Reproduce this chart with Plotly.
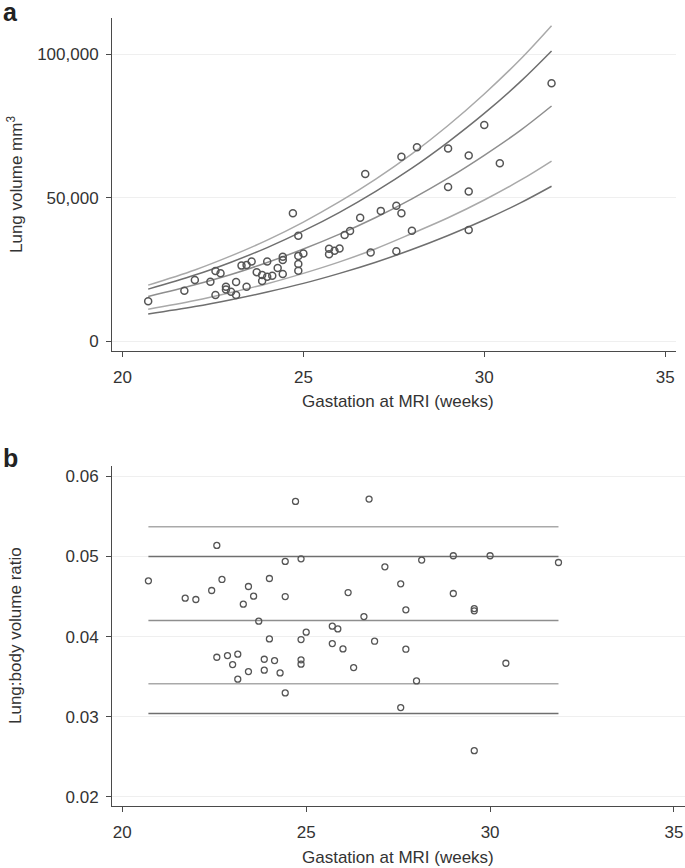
import plotly.graph_objects as go

# ---------------- Panel a data ----------------
ga_a = [20.71, 21.71, 22.0, 22.43, 22.57, 22.71, 22.57, 22.86, 22.86, 23.0,
        23.14, 23.14, 23.29, 23.43, 23.57, 23.43, 23.71, 23.86, 23.86, 24.0,
        24.0, 24.14, 24.29, 24.43, 24.43, 24.43, 24.71, 24.86, 24.86, 24.86,
        24.86, 25.0, 25.71, 25.71, 25.86, 26.0, 26.14, 26.29, 26.57, 26.71,
        26.86, 27.14, 27.57, 27.71, 27.57, 27.71, 28.0, 28.14, 29.0, 29.0,
        29.57, 29.57, 29.57, 30.0, 30.43, 31.86]
volume_a = [13850, 17550, 21300, 20700, 24400, 23600, 16050, 18900, 18000, 17200,
            16050, 20600, 26300, 26500, 27700, 18900, 24000, 23000, 20900, 27700,
            22400, 22800, 25500, 29400, 28300, 23400, 44600, 36700, 29700, 26900,
            24500, 30500, 32200, 30300, 31500, 32300, 37000, 38400, 43000, 58300,
            30900, 45400, 47200, 44600, 31300, 64300, 38500, 67600, 67200, 53700,
            64700, 52200, 38700, 75400, 62000, 89900]

# reference curves
curve_ga = [20.71, 22, 23, 24, 25, 26, 27, 28, 29, 30, 31, 31.86]
curve_1 = [19500, 24800, 29700, 35200, 41500, 48600, 56500, 65300, 75200, 86200, 98300, 110000]
curve_2 = [18100, 23000, 27500, 32600, 38400, 44900, 52200, 60300, 69400, 79400, 90500, 101200]
curve_3 = [15500, 19600, 23200, 27400, 32100, 37300, 43100, 49600, 56800, 64800, 73500, 82000]
curve_4 = [11050, 14100, 16900, 20000, 23600, 27600, 32200, 37500, 43000, 49200, 56100, 62800]
curve_5 = [9400, 12000, 14400, 17100, 20100, 23600, 27500, 31900, 36800, 42200, 48200, 54000]

# ---------------- Panel b data ----------------
ga_b = [20.71, 21.71, 22.0, 22.43, 22.57, 22.71, 22.57, 22.86, 23.0, 23.14,
        23.14, 23.29, 23.43, 23.57, 23.43, 23.71, 23.86, 23.86, 24.0, 24.0,
        24.14, 24.29, 24.43, 24.43, 24.43, 24.71, 24.86, 24.86, 24.86, 24.86,
        25.0, 25.71, 25.86, 25.71, 26.0, 26.14, 26.71, 26.29, 26.57, 26.86,
        27.14, 27.57, 27.71, 27.71, 27.57, 28.0, 28.14, 29.0, 29.0, 29.57,
        29.57, 29.57, 30.0, 30.43, 31.86]
ratio_b = [0.04696, 0.0448, 0.04463, 0.04575, 0.05138, 0.04713, 0.03742, 0.03763, 0.0365, 0.0378,
           0.03468, 0.04405, 0.04625, 0.04505, 0.03563, 0.04192, 0.03717, 0.0358, 0.04725, 0.03971,
           0.037, 0.03546, 0.04938, 0.045, 0.03296, 0.05688, 0.04971, 0.03963, 0.03709, 0.03655,
           0.04055, 0.0413, 0.04096, 0.03913, 0.03846, 0.0455, 0.05717, 0.03613, 0.0425, 0.03942,
           0.04871, 0.04659, 0.04334, 0.03842, 0.03113, 0.03446, 0.04955, 0.05009, 0.04538, 0.0435,
           0.04321, 0.02575, 0.05009, 0.03667, 0.04925]
ref_ga_b = [20.71, 31.86]
ratio_levels = [0.0537, 0.0500, 0.0420, 0.0341, 0.0304]

x_ticks = [20, 25, 30, 35]
y_ticks_a = [0, 50000, 100000]
y_ticks_b = [0.02, 0.03, 0.04, 0.05, 0.06]

# ---------------- styling ----------------
W, H = 685, 868
FONT = "Liberation Sans, Arial, Helvetica, sans-serif"
line_colors = ["#a9a9a9", "#6f6f6f", "#8e8e8e", "#a9a9a9", "#6f6f6f"]
marker_col = "#555555"
axis_col = "#4a4a4a"

fig = go.Figure()

for c, col in zip([curve_1, curve_2, curve_3, curve_4, curve_5], line_colors):
    fig.add_trace(go.Scatter(x=curve_ga, y=c, mode="lines", line=dict(color=col, width=1.5, shape="spline"),
                             xaxis="x", yaxis="y", hoverinfo="skip", showlegend=False))
fig.add_trace(go.Scatter(x=ga_a, y=volume_a, mode="markers",
                         marker=dict(symbol="circle-open", size=7, color=marker_col, line=dict(width=1.5, color=marker_col)),
                         xaxis="x", yaxis="y", showlegend=False))

for lvl, col in zip(ratio_levels, line_colors):
    fig.add_trace(go.Scatter(x=ref_ga_b, y=[lvl, lvl], mode="lines", line=dict(color=col, width=1.5),
                             xaxis="x2", yaxis="y2", hoverinfo="skip", showlegend=False))
fig.add_trace(go.Scatter(x=ga_b, y=ratio_b, mode="markers",
                         marker=dict(symbol="circle-open", size=6, color=marker_col, line=dict(width=1.3, color=marker_col)),
                         xaxis="x2", yaxis="y2", showlegend=False))

axis_common = dict(showline=True, linecolor=axis_col, linewidth=1, ticks="outside", ticklen=5,
                   tickcolor=axis_col, tickwidth=1, zeroline=False,
                   tickfont=dict(family=FONT, size=17, color="#333333"))

def px_x(p):
    return p / W

def px_y(p):
    return 1 - p / H

fig.update_layout(
    width=W, height=H,
    margin=dict(l=0, r=0, t=0, b=0),
    paper_bgcolor="white", plot_bgcolor="white",
    showlegend=False,
    xaxis=dict(domain=[px_x(112), px_x(676)], range=[19.71, 35.3], tickvals=x_ticks,
               showgrid=False, anchor="y", ticklabelstandoff=6, **axis_common),
    yaxis=dict(domain=[px_y(351), px_y(18)], range=[-3490, 112700], tickvals=y_ticks_a,
               tickformat=",", showgrid=True, gridcolor="#efefef", gridwidth=1, anchor="x",
               ticklabelstandoff=4, **axis_common),
    xaxis2=dict(domain=[px_x(112), 1.0], range=[19.72, 35.3], tickvals=x_ticks,
                showgrid=False, anchor="y2", ticklabelstandoff=6, **axis_common),
    yaxis2=dict(domain=[px_y(805.7), px_y(466)], range=[0.01888, 0.0613], tickvals=y_ticks_b,
                tickformat=".2f", showgrid=True, gridcolor="#efefef", gridwidth=1, anchor="x2",
                ticklabelstandoff=4, **axis_common),
)

title_font = dict(family=FONT, size=17, color="#333333")
annotations = [
    dict(text="<b>a</b>", x=px_x(1), y=px_y(12), xanchor="left", yanchor="middle",
         font=dict(family=FONT, size=25, color="#222222")),
    dict(text="<b>b</b>", x=px_x(1), y=px_y(458), xanchor="left", yanchor="middle",
         font=dict(family=FONT, size=25, color="#222222")),
    dict(text="Gastation at MRI (weeks)", x=px_x(398), y=px_y(402), xanchor="center", yanchor="middle",
         font=title_font),
    dict(text="Gastation at MRI (weeks)", x=px_x(398), y=px_y(857), xanchor="center", yanchor="middle",
         font=title_font),
    dict(text="Lung volume mm<sup>3</sup>", x=px_x(15), y=px_y(185), xanchor="center", yanchor="middle",
         textangle=-90, font=title_font),
    dict(text="Lung:body volume ratio", x=px_x(15), y=px_y(636), xanchor="center", yanchor="middle",
         textangle=-90, font=title_font),
]
for a in annotations:
    a.update(xref="paper", yref="paper", showarrow=False)
fig.update_layout(annotations=annotations)

# remove the default 8px page margin so the figure fills the window exactly
fig.write_html("out.html", config={"displayModeBar": False},
               post_script="document.body.style.margin='0px';")
